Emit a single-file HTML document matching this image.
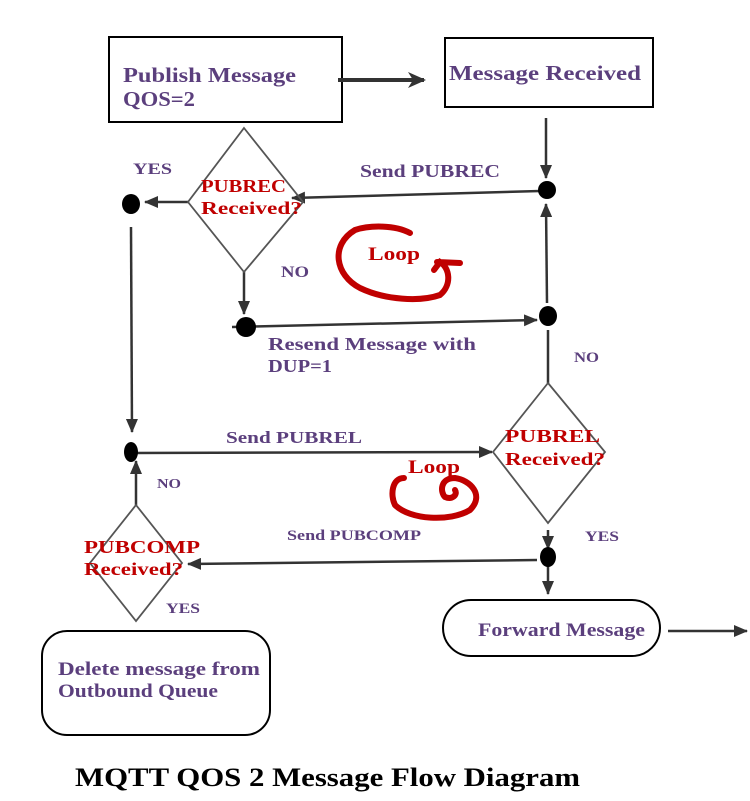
<!DOCTYPE html>
<html><head><meta charset="utf-8"><style>
html,body{margin:0;padding:0;background:#fff;}
svg{display:block;}
text{font-family:"Liberation Serif",serif;font-weight:bold;}
.p{fill:#5b3f7d;}
.r{fill:#c00000;}
</style></head><body>
<svg width="750" height="801" viewBox="0 0 750 801" xmlns="http://www.w3.org/2000/svg">
<defs>
<marker id="a" markerWidth="14" markerHeight="12" refX="13" refY="6" orient="auto" markerUnits="userSpaceOnUse">
<path d="M0,0 L14,6 L0,12 Z" fill="#333"/></marker>
<marker id="b" markerWidth="18" markerHeight="16" refX="16" refY="8" orient="auto" markerUnits="userSpaceOnUse">
<path d="M0,0 L18,8 L0,16 L5,8 Z" fill="#333"/></marker>
</defs>
<g stroke="#333" stroke-width="2.5" fill="none">
<rect x="109" y="37" width="233" height="85" stroke="#000" stroke-width="2"/>
<rect x="445" y="38" width="208" height="69" stroke="#000" stroke-width="2"/>
<line x1="338" y1="80" x2="424" y2="80" stroke-width="4" marker-end="url(#b)"/>
<line x1="546" y1="118" x2="546" y2="178" marker-end="url(#a)"/>
<line x1="540" y1="191" x2="292" y2="198" marker-end="url(#a)"/>
<line x1="188" y1="202" x2="145" y2="202" marker-end="url(#a)"/>
<line x1="131" y1="227" x2="132" y2="432" marker-end="url(#a)"/>
<line x1="244" y1="272" x2="244" y2="314" marker-end="url(#a)"/>
<line x1="232" y1="327" x2="537" y2="320" marker-end="url(#a)"/>
<line x1="547" y1="303" x2="546" y2="204" marker-end="url(#a)"/>
<line x1="548" y1="383" x2="548" y2="330"/>
<line x1="131" y1="453" x2="492" y2="452" marker-end="url(#a)"/>
<line x1="548" y1="530" x2="548" y2="549" marker-end="url(#a)"/>
<line x1="548" y1="560" x2="548" y2="594" marker-end="url(#a)"/>
<line x1="537" y1="560" x2="188" y2="564" marker-end="url(#a)"/>
<line x1="136" y1="505" x2="136" y2="461" marker-end="url(#a)"/>
<line x1="668" y1="631" x2="747" y2="631" marker-end="url(#a)"/>
</g>
<g stroke="#555" stroke-width="1.8" fill="none">
<polygon points="244,128 303,202 244,272 188,202"/>
<polygon points="548,383 605,452 548,523 493,452"/>
<polygon points="136,505 182,563 136,621 90,563"/>
</g>
<g stroke="#000" stroke-width="2" fill="#fff">
<rect x="42" y="631" width="228" height="104" rx="25"/>
<rect x="443" y="600" width="217" height="56" rx="28"/>
</g>
<g fill="#000">
<ellipse cx="131" cy="204" rx="9" ry="10"/>
<ellipse cx="547" cy="190" rx="9" ry="9"/>
<ellipse cx="246" cy="327" rx="10" ry="10"/>
<ellipse cx="548" cy="316" rx="9" ry="10"/>
<ellipse cx="131" cy="452" rx="7" ry="10"/>
<ellipse cx="548" cy="557" rx="8" ry="10"/>
</g>
<g stroke="#c00000" stroke-width="6" fill="none" stroke-linecap="round">
<path d="M410,233 C395,225 370,225 355,230 C330,245 335,275 360,288 C385,300 420,302 440,295 C452,285 450,268 440,262 L434,270 M437,262 L460,263"/>
<path d="M404,478 C392,478 390,495 395,505 C410,520 450,522 470,510 C485,495 470,480 455,478 C440,478 440,492 445,497 C452,500 458,495 455,490"/>
</g>
<text class="p" x="123" y="82" font-size="21" textLength="173" lengthAdjust="spacingAndGlyphs">Publish Message</text>
<text class="p" x="123" y="106" font-size="21" textLength="72" lengthAdjust="spacingAndGlyphs">QOS=2</text>
<text class="p" x="449" y="80" font-size="21" textLength="192" lengthAdjust="spacingAndGlyphs">Message Received</text>
<text class="p" x="360" y="177" font-size="18" textLength="140" lengthAdjust="spacingAndGlyphs">Send PUBREC</text>
<text class="p" x="133" y="174" font-size="16" textLength="39" lengthAdjust="spacingAndGlyphs">YES</text>
<text class="r" x="201" y="192" font-size="18" textLength="85" lengthAdjust="spacingAndGlyphs">PUBREC</text>
<text class="r" x="201" y="214" font-size="18" textLength="101" lengthAdjust="spacingAndGlyphs">Received?</text>
<text class="p" x="281" y="277" font-size="16" textLength="28" lengthAdjust="spacingAndGlyphs">NO</text>
<text class="r" x="368" y="260" font-size="19" textLength="52" lengthAdjust="spacingAndGlyphs">Loop</text>
<text class="p" x="268" y="350" font-size="18" textLength="208" lengthAdjust="spacingAndGlyphs">Resend Message with</text>
<text class="p" x="268" y="372" font-size="18" textLength="64" lengthAdjust="spacingAndGlyphs">DUP=1</text>
<text class="p" x="574" y="362" font-size="15" textLength="25" lengthAdjust="spacingAndGlyphs">NO</text>
<text class="p" x="226" y="443" font-size="17" textLength="136" lengthAdjust="spacingAndGlyphs">Send PUBREL</text>
<text class="r" x="505" y="442" font-size="18" textLength="95" lengthAdjust="spacingAndGlyphs">PUBREL</text>
<text class="r" x="505" y="465" font-size="18" textLength="100" lengthAdjust="spacingAndGlyphs">Received?</text>
<text class="r" x="408" y="473" font-size="19" textLength="52" lengthAdjust="spacingAndGlyphs">Loop</text>
<text class="p" x="157" y="488" font-size="14" textLength="24" lengthAdjust="spacingAndGlyphs">NO</text>
<text class="p" x="287" y="540" font-size="15" textLength="134" lengthAdjust="spacingAndGlyphs">Send PUBCOMP</text>
<text class="p" x="585" y="541" font-size="15" textLength="34" lengthAdjust="spacingAndGlyphs">YES</text>
<text class="r" x="84" y="553" font-size="18" textLength="116" lengthAdjust="spacingAndGlyphs">PUBCOMP</text>
<text class="r" x="84" y="575" font-size="18" textLength="99" lengthAdjust="spacingAndGlyphs">Received?</text>
<text class="p" x="166" y="613" font-size="15" textLength="34" lengthAdjust="spacingAndGlyphs">YES</text>
<text class="p" x="478" y="636" font-size="19" textLength="167" lengthAdjust="spacingAndGlyphs">Forward Message</text>
<text class="p" x="58" y="675" font-size="19" textLength="202" lengthAdjust="spacingAndGlyphs">Delete message from</text>
<text class="p" x="58" y="697" font-size="19" textLength="160" lengthAdjust="spacingAndGlyphs">Outbound Queue</text>
<text x="75" y="786" font-size="26" fill="#000" textLength="505" lengthAdjust="spacingAndGlyphs">MQTT QOS 2 Message Flow Diagram</text>
</svg>
</body></html>
